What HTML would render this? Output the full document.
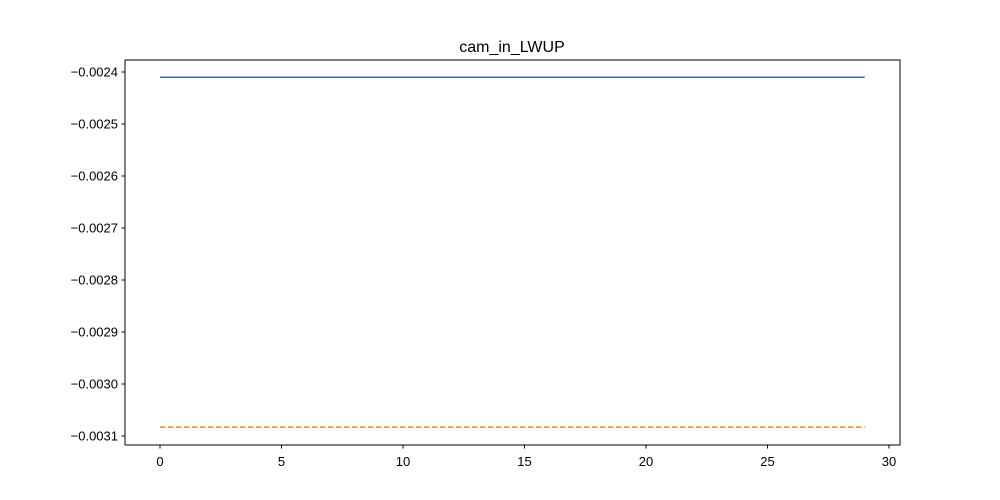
<!DOCTYPE html>
<html><head><meta charset="utf-8"><style>
body{margin:0;background:#fff;}
svg{display:block;font-family:"Liberation Sans","DejaVu Sans",sans-serif;}
</style></head><body>
<svg id="chart" width="1000" height="500">
<rect width="1000" height="500" fill="#fff"/>
<text x="512" y="52" font-size="16" text-anchor="middle">cam_in_LWUP</text>
<g id="marks"></g>
<g id="axes"></g>
<rect x="125" y="60" width="775" height="385" fill="none" stroke="#000" stroke-width="1"/>
</svg>
<script>
const xValues = Array.from({length:30},(_,i)=>i);
const series1 = new Array(30).fill(-0.00241);
const series2 = new Array(30).fill(-0.003083);
const xTicks = [0,5,10,15,20,25,30];
const yTicks = [-0.0024,-0.0025,-0.0026,-0.0027,-0.0028,-0.0029,-0.0030,-0.0031];
const yTickLabels = ["\u22120.0024","\u22120.0025","\u22120.0026","\u22120.0027","\u22120.0028","\u22120.0029","\u22120.0030","\u22120.0031"];

const xs = v => 160 + v*(889-160)/30;
const ys = v => 72 + (-0.0024 - v)/0.0001*52;
const NS = "http://www.w3.org/2000/svg";
const marks = document.getElementById('marks');
const axes = document.getElementById('axes');

function line(data, color, dash, name){
  const p = document.createElementNS(NS,'polyline');
  p.setAttribute('points', data.map((v,i)=>xs(xValues[i])+','+ys(v)).join(' '));
  p.setAttribute('fill','none');
  p.setAttribute('stroke',color);
  p.setAttribute('stroke-width','1.5');
  if(dash) p.setAttribute('stroke-dasharray',dash);
  
  
  marks.appendChild(p);
}
line(series1,'#1f77b4',null,'series-1-line');
line(series2,'#ff7f0e','5.5 2.5','series-2-line');

xTicks.forEach(t=>{
  const x = xs(t);
  const l = document.createElementNS(NS,'line');
  l.setAttribute('x1',x);l.setAttribute('x2',x);l.setAttribute('y1',445);l.setAttribute('y2',448.5);
  l.setAttribute('stroke','#000');
  
  
  axes.appendChild(l);
  const tx = document.createElementNS(NS,'text');
  tx.setAttribute('x',x);tx.setAttribute('y',466);tx.setAttribute('font-size','13');tx.setAttribute('text-anchor','middle');
  tx.textContent = t;
  
  
  axes.appendChild(tx);
});
yTicks.forEach((t,i)=>{
  const y = ys(t);
  const l = document.createElementNS(NS,'line');
  l.setAttribute('x1',121.5);l.setAttribute('x2',125);l.setAttribute('y1',y);l.setAttribute('y2',y);
  l.setAttribute('stroke','#000');
  
  
  axes.appendChild(l);
  const tx = document.createElementNS(NS,'text');
  tx.setAttribute('x',118);tx.setAttribute('y',y+4.5);tx.setAttribute('font-size','13');tx.setAttribute('text-anchor','end');
  tx.textContent = yTickLabels[i];
  
  
  axes.appendChild(tx);
});
</script>
</body></html>
